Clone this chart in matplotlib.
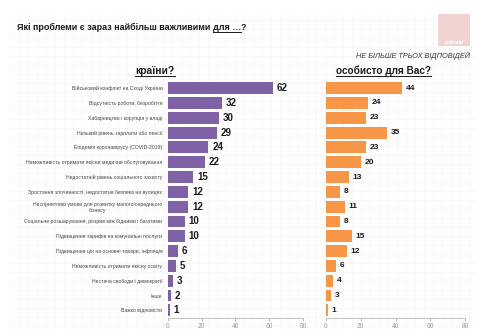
import matplotlib.pyplot as plt
import numpy as np
from matplotlib.patches import Rectangle
from matplotlib.lines import Line2D

plt.rcParams['font.family'] = ['Liberation Sans', 'DejaVu Sans']

categories = [
    "Військовий конфлікт на Сході України",
    "Відсутність роботи, безробіття",
    "Хабарництво і корупція у владі",
    "Низький рівень зарплати або пенсії",
    "Епідемія коронавірусу (COVID-2019)",
    "Неможливість отримати якісне медичне обслуговування",
    "Недостатній рівень соціального захисту",
    "Зростання злочинності, недостатня безпека на вулицях",
    "Несприятливі умови для розвитку малого/середнього\nбізнесу",
    "Соціальне розшарування, розрив між бідними і багатими",
    "Підвищення тарифів на комунальні послуги",
    "Підвищення цін на основні товари, інфляція",
    "Неможливість отримати якісну освіту",
    "Нестача свободи і демократії",
    "Інше",
    "Важко відповісти",
]
country = [62, 32, 30, 29, 24, 22, 15, 12, 12, 10, 10, 6, 5, 3, 2, 1]
personal = [44, 24, 23, 35, 23, 20, 13, 8, 11, 8, 15, 12, 6, 4, 3, 1]
xticks = [0, 20, 40, 60, 80]

purple = "#7f62a6"
orange = "#f79646"

fig = plt.figure(figsize=(4.8, 3.31), dpi=100)
fig.patch.set_facecolor("white")

# faint graph-paper background
for gx in np.arange(10, 478, 9):
    fig.add_artist(Line2D([gx / 480, gx / 480], [0.0, 0.96], color="#f6f6f6", lw=0.5, zorder=0))
for gy in np.arange(5, 320, 9):
    fig.add_artist(Line2D([0.02, 0.99], [gy / 331, gy / 331], color="#f6f6f6", lw=0.5, zorder=0))

y = np.arange(len(categories))


def draw_panel(rect, values, color, fs):
    ax = fig.add_axes(rect)
    ax.patch.set_alpha(0)
    ax.barh(y, values, height=0.8, color=color)
    for yi, v in zip(y, values):
        ax.text(v + 2.2, yi, str(v), va="center", ha="left", fontsize=fs,
                fontweight="bold", color="#1a1a1a")
    ax.set_xlim(0, 80)
    ax.set_ylim(len(categories) - 0.5, -0.5)
    ax.set_xticks(xticks)
    ax.tick_params(axis="x", labelsize=4.8, colors="#999999", length=2, width=0.5, pad=2)
    for s in ["top", "right", "left"]:
        ax.spines[s].set_visible(False)
    ax.spines["bottom"].set_color("#bbbbbb")
    ax.spines["bottom"].set_linewidth(0.6)
    return ax


ax1 = draw_panel([0.35, 0.04, 0.281, 0.716], country, purple, 7)
ax1.set_yticks(y)
ax1.set_yticklabels(categories, fontsize=3.7, color="#444444")
for lab in ax1.get_yticklabels():
    lab.set_multialignment("center")
ax1.tick_params(axis="y", length=0, pad=4)

ax2 = draw_panel([0.679, 0.04, 0.29, 0.716], personal, orange, 6)
ax2.set_yticks([])

# title with underlined part
fig.canvas.draw()
r = fig.canvas.get_renderer()
tfs = 6.5
t1 = fig.text(17 / 480, 1 - 30 / 331, "Які проблеми є зараз найбільш важливими ",
              fontsize=tfs, fontweight="bold", color="#1a1a1a", va="baseline")
bb = t1.get_window_extent(r)
t2 = fig.text(bb.x1 / 480, 1 - 30 / 331, "для …", fontsize=tfs, fontweight="bold",
              color="#1a1a1a", va="baseline")
bb2 = t2.get_window_extent(r)
fig.add_artist(Line2D([bb2.x0 / 480, bb2.x1 / 480], [(bb2.y0 + 0.3) / 331] * 2,
                      color="#1a1a1a", lw=0.7))
fig.text(bb2.x1 / 480, 1 - 30 / 331, "?", fontsize=tfs, fontweight="bold",
         color="#1a1a1a", va="baseline")


def underlined(xc, yb, s, fs):
    t = fig.text(xc / 480, 1 - yb / 331, s, fontsize=fs, fontweight="bold",
                 color="#1a1a1a", ha="center", va="baseline")
    b = t.get_window_extent(r)
    fig.add_artist(Line2D([b.x0 / 480, b.x1 / 480], [(b.y0 + 0.3) / 331] * 2,
                          color="#1a1a1a", lw=0.7))


underlined(155, 74, "країни?", 7.4)
underlined(383, 74, "особисто для Вас?", 7.2)

fig.text(470 / 480, 1 - 58 / 331, "НЕ БІЛЬШЕ ТРЬОХ ВІДПОВІДЕЙ", fontsize=5.3,
         style="italic", color="#333333", ha="right", va="baseline")

# logo block
fig.add_artist(Rectangle((438 / 480, 1 - 46 / 331), 32 / 480, 32 / 331,
                         facecolor="#f0d4d2", edgecolor="none"))
fig.text(454 / 480, 1 - 44 / 331, "рейтинг", fontsize=3.5, color="white",
         ha="center", va="baseline", fontweight="bold")

fig.savefig("out.png", dpi=100)
